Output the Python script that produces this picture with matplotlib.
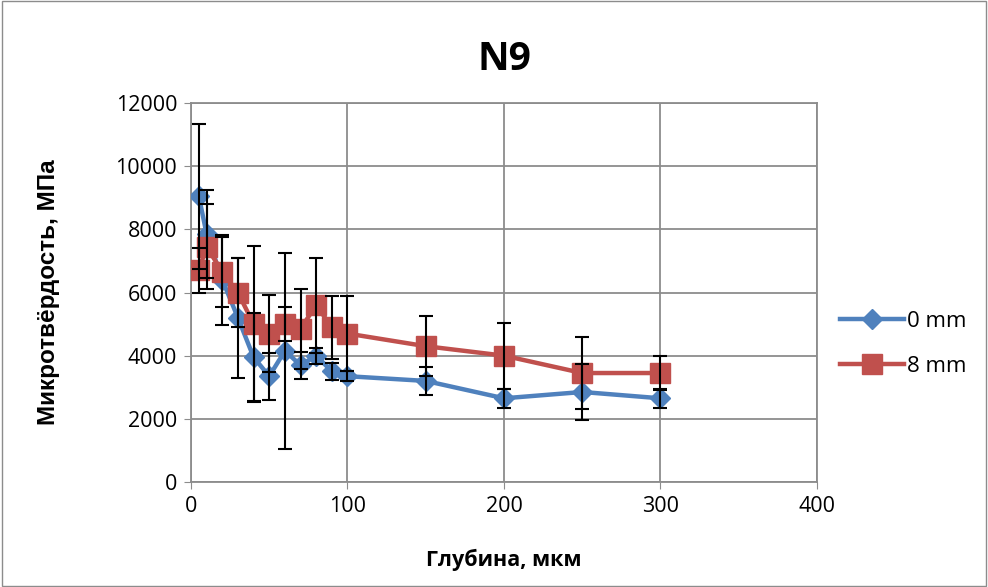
import numpy as np
import matplotlib.pyplot as plt

# depth points, мкм
depth = [5, 10, 20, 30, 40, 50, 60, 70, 80, 90, 100, 150, 200, 250, 300]

# 0 mm series
hv_0 = [9050, 7850, 6400, 5200, 3950, 3350, 4150, 3700, 4000, 3500, 3350, 3200, 2650, 2850, 2650]
err_0 = [2300, 1400, 1430, 1900, 1400, 750, 3100, 430, 250, 270, 150, 450, 300, 900, 300]

# 8 mm series
hv_8 = [6700, 7450, 6650, 6000, 5000, 4700, 5000, 4850, 5600, 4900, 4700, 4300, 4000, 3450, 3450]
err_8 = [700, 1350, 1100, 1100, 2470, 1220, 550, 1260, 1500, 1000, 1200, 950, 1050, 1150, 530]

blue = '#4F81BD'
red = '#C0504D'

plt.rcParams['font.family'] = ['Open Sans', 'DejaVu Sans']

fig = plt.figure(figsize=(9.88, 5.87), dpi=100)
ax = fig.add_axes([0.1933, 0.1789, 0.6336, 0.6456])

ax.plot(depth, hv_0, color=blue, lw=3.2, marker='D', ms=10, mec=blue, label='0 mm', zorder=3)
ax.plot(depth, hv_8, color=red, lw=3.2, marker='s', ms=15, mec=red, label='8 mm', zorder=3)

# error bars are drawn over the markers, like in the original
ax.errorbar(depth, hv_0, yerr=err_0, fmt='none', ecolor='black', elinewidth=1.5, capsize=5, capthick=1.5, zorder=4)
ax.errorbar(depth, hv_8, yerr=err_8, fmt='none', ecolor='black', elinewidth=1.5, capsize=5, capthick=1.5, zorder=4)

ax.set_xlim(0, 400)
ax.set_ylim(0, 12000)
ax.set_xticks([0, 100, 200, 300, 400])
ax.set_yticks(np.arange(0, 12001, 2000))
ax.grid(True, color='#8C8C8C', lw=1.3)
ax.set_axisbelow(True)
for s in ax.spines.values():
    s.set_color('#8C8C8C')
    s.set_linewidth(1.3)
ax.tick_params(labelsize=15.5, length=5, color='#8C8C8C', pad=5)

ax.set_title('N9', fontsize=28, fontweight='bold', pad=24)
ax.set_xlabel('Глубина, мкм', fontsize=15.5, fontweight='bold', labelpad=23)
ax.set_ylabel('Микротвёрдость, МПа', fontsize=17.5, fontweight='bold', labelpad=40,
              family=['Liberation Sans', 'DejaVu Sans'])

fig.legend(loc='center left', bbox_to_anchor=(0.83, 0.414), frameon=False, fontsize=16,
           handlelength=2.9, labelspacing=1.1, handletextpad=0.1)

# thin frame round the whole picture
fig.patches.append(plt.Rectangle((0.002, 0.002), 0.996, 0.996, transform=fig.transFigure,
                                 fill=False, edgecolor='#8C8C8C', lw=1))

fig.savefig('out.png', dpi=100)
